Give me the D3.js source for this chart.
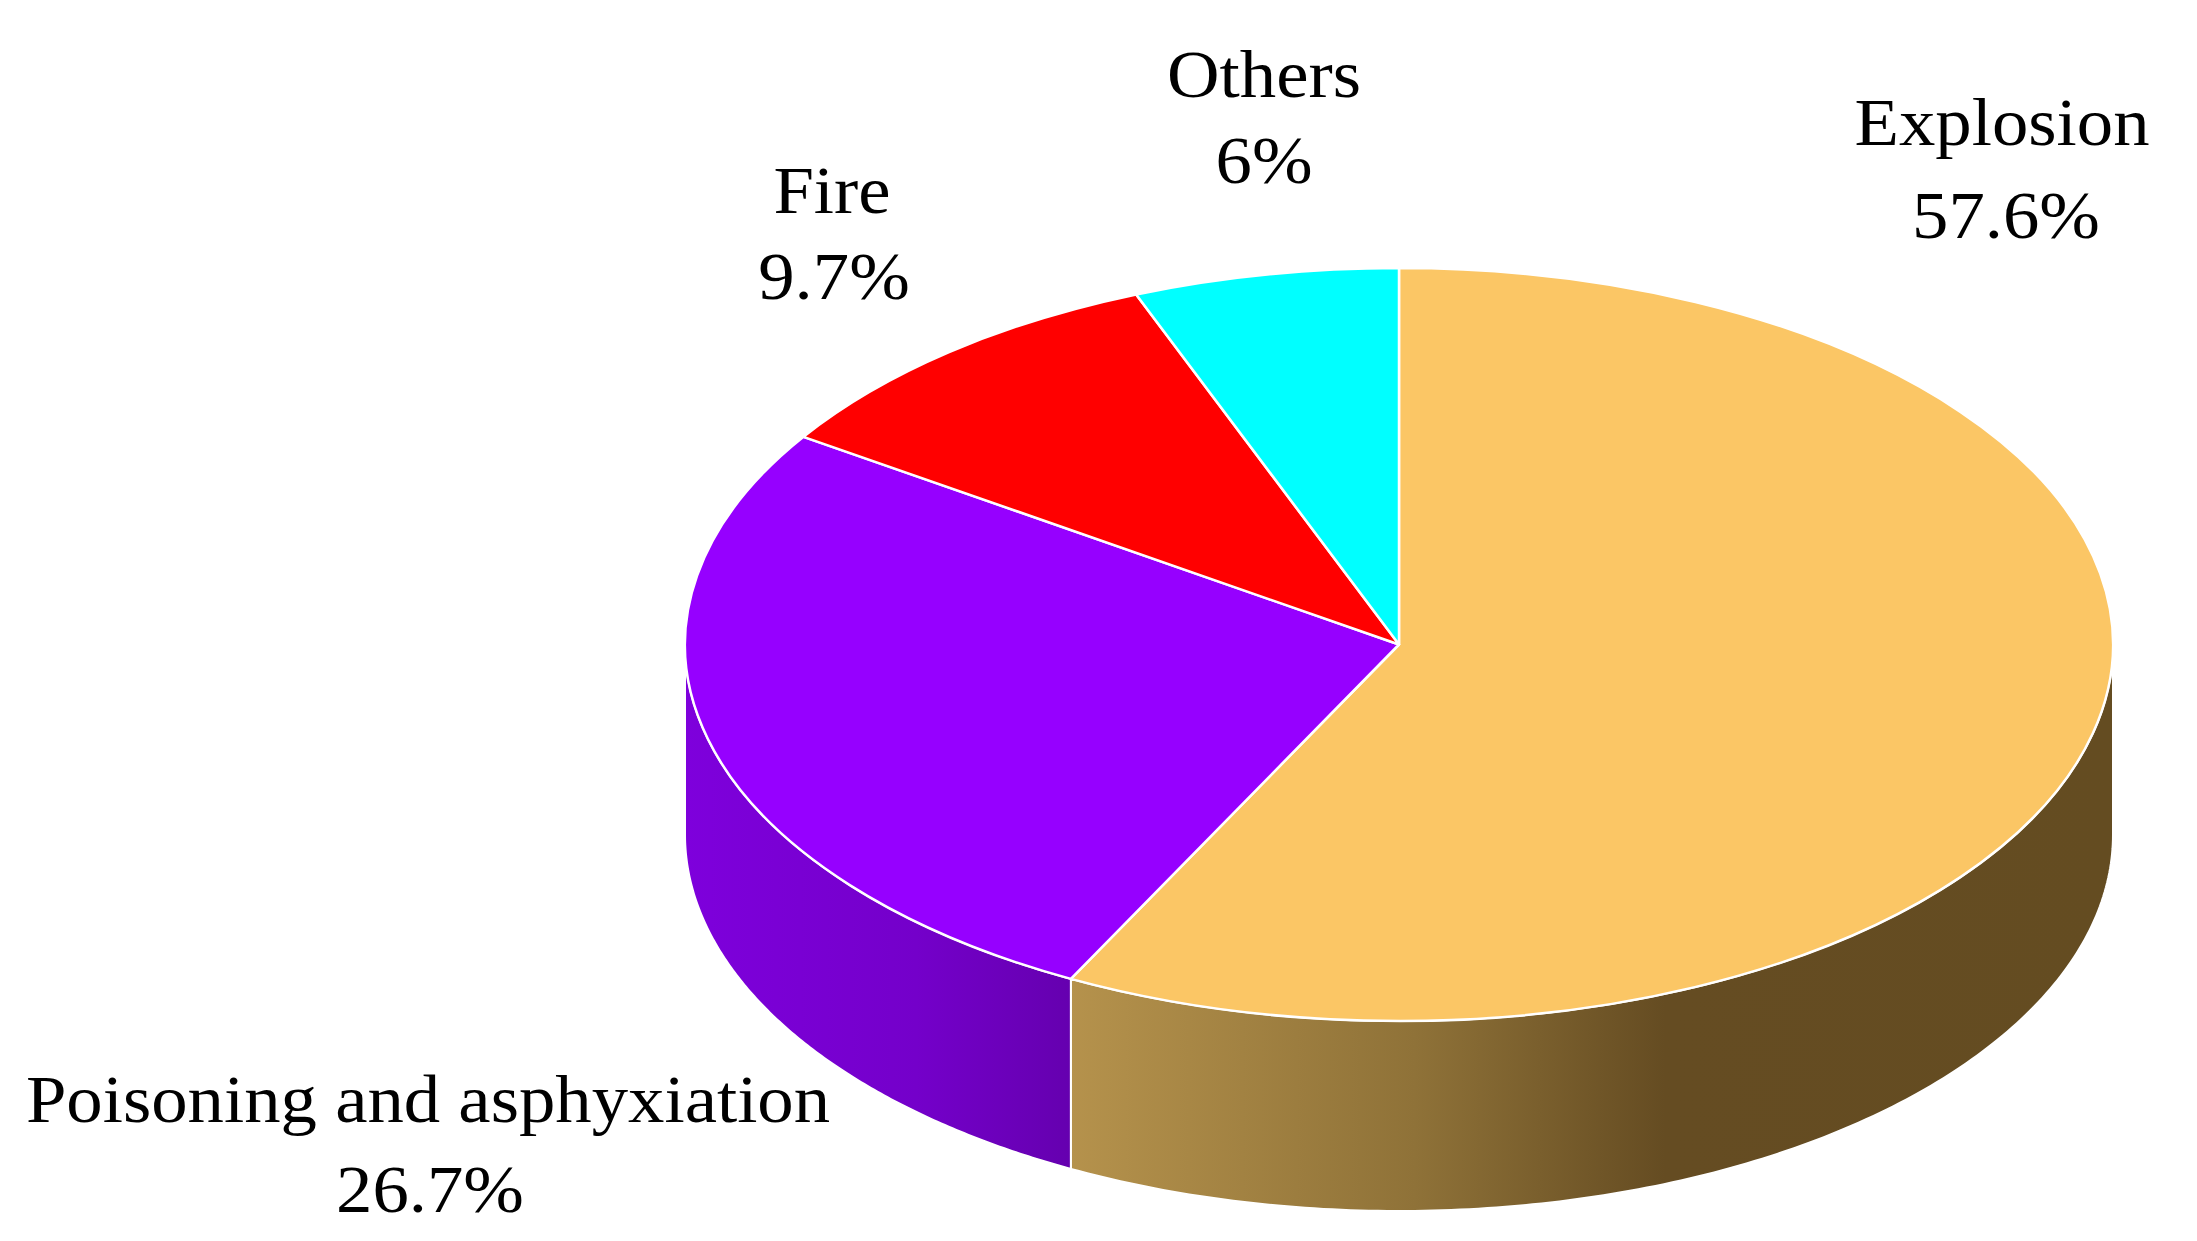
<!DOCTYPE html>
<html>
<head>
<meta charset="utf-8">
<script src="https://cdn.jsdelivr.net/npm/d3@7"></script>
<style>html,body{margin:0;padding:0;background:#fff}svg{display:block}</style>
</head>
<body>
<script>
const categories = ["Explosion", "Poisoning and asphyxiation", "Fire", "Others"];
const values = [57.6, 26.7, 9.7, 6];
const valueLabels = ["57.6%", "26.7%", "9.7%", "6%"];
const topColors = ["#FBC665", "#9600FF", "#FF0000", "#00FFFF"];
const wallStops = [
  [["#B5924C", 0], ["#8F7238", 0.33], ["#654C22", 0.57], ["#644C21", 1]],
  [["#7E00DC", 0], ["#7400CA", 0.6], ["#6500AF", 1]],
  [],
  []
];
const nameAnchors = [[2002, 145], [428, 1122], [832, 213], [1264, 97]];
const valueAnchors = [[2006, 238], [430, 1212], [834, 299], [1264, 183]];

const W = 2197, H = 1241, cx = 1399, cy = 644.5, rx = 714, ry = 376.5, depth = 190;
const svg = d3.select("body").append("svg").attr("width", W).attr("height", H);
const defs = svg.append("defs");
defs.append("filter").attr("id", "soft")
  .append("feGaussianBlur").attr("stdDeviation", 0.6);

const arcs = d3.pie().sort(null).value(d => d)(values);
const arcPath = d3.arc().innerRadius(0).outerRadius(rx);
const px = a => cx + rx * Math.sin(a);
const py = a => cy - ry * Math.cos(a);
const line = d3.line();

// Side walls: only the part of each slice facing the viewer (90° to 270° from the top)
arcs.forEach((d, i) => {
  const a0 = Math.max(d.startAngle, Math.PI / 2), a1 = Math.min(d.endAngle, 3 * Math.PI / 2);
  if (a1 <= a0) return;
  const x0 = Math.min(px(a0), px(a1)), x1 = Math.max(px(a0), px(a1));
  const id = "wall" + i;
  const g = defs.append("linearGradient").attr("id", id)
    .attr("gradientUnits", "userSpaceOnUse")
    .attr("x1", x0).attr("x2", x1).attr("y1", 0).attr("y2", 0);
  wallStops[i].forEach(s => g.append("stop").attr("offset", s[1]).attr("stop-color", s[0]));
  const n = 160;
  const angs = d3.range(n + 1).map(k => a0 + (a1 - a0) * k / n);
  const pts = angs.map(a => [px(a), py(a)]).concat(angs.slice().reverse().map(a => [px(a), py(a) + depth]));
  svg.append("path").attr("d", line(pts) + "Z")
    .attr("fill", "url(#" + id + ")")
    .attr("stroke", "#fff").attr("stroke-width", 2).attr("stroke-linejoin", "round");
});

// Top face
svg.append("g").attr("transform", `translate(${cx},${cy}) scale(1,${ry / rx})`)
  .selectAll("path").data(arcs).join("path")
  .attr("d", arcPath)
  .attr("fill", (d, i) => topColors[i])
  .attr("stroke", "#fff").attr("stroke-width", 2.5)
  .attr("stroke-linejoin", "round")
  .attr("vector-effect", "non-scaling-stroke");

// Labels
function label(text, a) {
  svg.append("text")
    .attr("transform", `translate(${a[0]},${a[1]}) scale(1.07,1)`)
    .attr("text-anchor", "middle")
    .attr("font-family", "'Liberation Serif','Times New Roman',serif")
    .attr("font-size", 68).attr("fill", "#000")
    .attr("filter", "url(#soft)")
    .text(text);
}
categories.forEach((c, i) => {
  label(c, nameAnchors[i]);
  label(valueLabels[i], valueAnchors[i]);
});
</script>
</body>
</html>
